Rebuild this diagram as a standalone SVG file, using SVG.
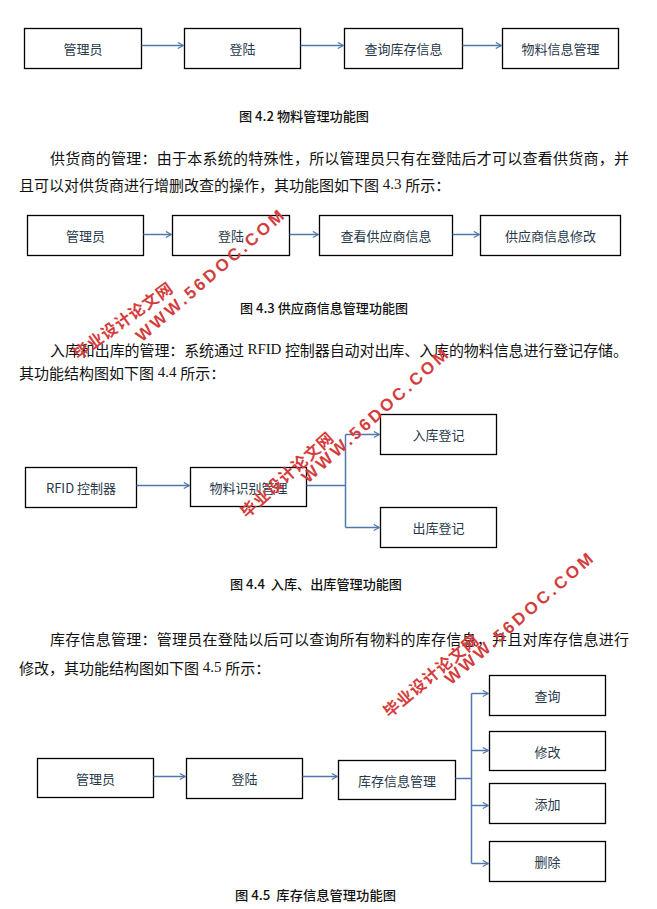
<svg xmlns="http://www.w3.org/2000/svg" width="657" height="909" viewBox="0 0 657 909">
<defs>
<style>
.box{fill:#fff;stroke:#000;stroke-width:1.3}
.lbl{font-family:"Noto Sans CJK SC","Noto Sans",sans-serif;font-size:13px;fill:#27384a;text-anchor:middle;dominant-baseline:central}
.para{font-family:"Noto Sans CJK SC","Noto Sans",sans-serif;font-size:15px;fill:#111;dominant-baseline:central}
.cap{font-family:"Noto Sans CJK SC","Noto Sans",sans-serif;font-size:13px;font-weight:500;fill:#111;dominant-baseline:central;white-space:pre}
.lat{font-family:"Liberation Serif",serif}
.conn{stroke:#5277a8;stroke-width:1.5;fill:none}
.wmc{font-family:"Noto Sans CJK SC",sans-serif;font-size:16px;font-weight:bold;fill:#d43d3d;text-anchor:middle;dominant-baseline:central}
.wme{font-family:"Liberation Sans",sans-serif;font-size:17px;font-weight:bold;fill:#d43d3d;text-anchor:middle;dominant-baseline:central}
</style>
<marker id="arr" viewBox="0 0 8 8" refX="7.2" refY="4" markerWidth="8" markerHeight="8" markerUnits="userSpaceOnUse" orient="auto">
<path d="M1.5,1 L7,4 L1.5,7" fill="none" stroke="#5277a8" stroke-width="1.3"/>
</marker>
</defs>
<rect width="657" height="909" fill="#fff"/>

<!-- Diagram 4.2 -->
<g id="d1_admin"><rect class="box" x="24.5" y="28.5" width="117" height="40"/><text class="lbl" x="83" y="48.5">管理员</text></g>
<g id="d1_login"><rect class="box" x="184.5" y="28.5" width="116" height="40"/><text class="lbl" x="242.5" y="48.5">登陆</text></g>
<g id="d1_query"><rect class="box" x="344.5" y="28.5" width="118" height="40"/><text class="lbl" x="403.5" y="48.5">查询库存信息</text></g>
<g id="d1_material"><rect class="box" x="502.5" y="28.5" width="116" height="40"/><text class="lbl" x="560.5" y="48.5">物料信息管理</text></g>

<text class="cap" x="239" y="115" textLength="130" lengthAdjust="spacingAndGlyphs">图 4.2 物料管理功能图</text>

<text class="para" x="50" y="157" textLength="579" lengthAdjust="spacing">供货商的管理：由于本系统的特殊性，所以管理员只有在登陆后才可以查看供货商，并</text>
<text class="para" x="19" y="184">且可以对供货商进行增删改查的操作，其功能图如下图<tspan class="lat"> 4.3 </tspan>所示：</text>

<!-- Diagram 4.3 -->
<g id="d2_admin"><rect class="box" x="27.5" y="215.5" width="116" height="40"/><text class="lbl" x="85.5" y="235">管理员</text></g>
<g id="d2_login"><rect class="box" x="172.5" y="215.5" width="117" height="40"/><text class="lbl" x="231" y="235">登陆</text></g>
<g id="d2_view"><rect class="box" x="319.5" y="215.5" width="133" height="40"/><text class="lbl" x="386" y="235">查看供应商信息</text></g>
<g id="d2_edit"><rect class="box" x="480.5" y="215.5" width="140" height="40"/><text class="lbl" x="550.5" y="235">供应商信息修改</text></g>

<text class="cap" x="240" y="307" textLength="168" lengthAdjust="spacingAndGlyphs">图 4.3 供应商信息管理功能图</text>

<text class="para" x="50" y="349" textLength="578" lengthAdjust="spacing">入库和出库的管理：系统通过<tspan class="lat"> RFID </tspan>控制器自动对出库、入库的物料信息进行登记存储。</text>
<text class="para" x="19" y="372">其功能结构图如下图<tspan class="lat"> 4.4 </tspan>所示：</text>

<!-- Diagram 4.4 -->
<g id="d3_rfid"><rect class="box" x="25.5" y="467.5" width="111" height="40"/><text class="lbl" x="81" y="487.5">RFID 控制器</text></g>
<g id="d3_ident"><rect class="box" x="190.5" y="467.5" width="116" height="39"/><text class="lbl" x="248.5" y="487">物料识别管理</text></g>
<g id="d3_in"><rect class="box" x="380.5" y="414.5" width="116" height="40"/><text class="lbl" x="438.5" y="434.5">入库登记</text></g>
<g id="d3_out"><rect class="box" x="380.5" y="507.5" width="116" height="40"/><text class="lbl" x="438.5" y="527.5">出库登记</text></g>

<text class="cap" x="230" y="583" textLength="172" lengthAdjust="spacingAndGlyphs">图 4.4  入库、出库管理功能图</text>

<text class="para" x="50" y="638" textLength="579" lengthAdjust="spacing">库存信息管理：管理员在登陆以后可以查询所有物料的库存信息，并且对库存信息进行</text>
<text class="para" x="19" y="667">修改，其功能结构图如下图<tspan class="lat"> 4.5 </tspan>所示：</text>

<!-- Diagram 4.5 -->
<g id="d4_admin"><rect class="box" x="37.5" y="758.5" width="116" height="39"/><text class="lbl" x="95.5" y="778">管理员</text></g>
<g id="d4_login"><rect class="box" x="186.5" y="758.5" width="116" height="40"/><text class="lbl" x="244.5" y="778.5">登陆</text></g>
<g id="d4_stock"><rect class="box" x="338.5" y="760.5" width="117" height="39"/><text class="lbl" x="397" y="780">库存信息管理</text></g>
<g id="d4_query"><rect class="box" x="489.5" y="675.5" width="116" height="40"/><text class="lbl" x="547.5" y="695.5">查询</text></g>
<g id="d4_modify"><rect class="box" x="489.5" y="731.5" width="116" height="39"/><text class="lbl" x="547.5" y="751">修改</text></g>
<g id="d4_add"><rect class="box" x="489.5" y="783.5" width="116" height="40"/><text class="lbl" x="547.5" y="803.5">添加</text></g>
<g id="d4_delete"><rect class="box" x="489.5" y="841.5" width="116" height="40"/><text class="lbl" x="547.5" y="861.5">删除</text></g>

<text class="cap" x="235" y="894" textLength="161" lengthAdjust="spacingAndGlyphs">图 4.5  库存信息管理功能图</text>

<g id="connectors">
<line class="conn" x1="141.5" y1="45.5" x2="183.5" y2="45.5" marker-end="url(#arr)"/>
<line class="conn" x1="300.5" y1="45.5" x2="343.5" y2="45.5" marker-end="url(#arr)"/>
<line class="conn" x1="462.5" y1="45.5" x2="501.5" y2="45.5" marker-end="url(#arr)"/>

<line class="conn" x1="143.5" y1="234.5" x2="171.5" y2="234.5" marker-end="url(#arr)"/>
<line class="conn" x1="289.5" y1="234.5" x2="318.5" y2="234.5" marker-end="url(#arr)"/>
<line class="conn" x1="452.5" y1="234.5" x2="479.5" y2="234.5" marker-end="url(#arr)"/>

<line class="conn" x1="136.5" y1="485.5" x2="189.5" y2="485.5" marker-end="url(#arr)"/>
<path class="conn" d="M306.5,485.5 H345.5"/>
<path class="conn" d="M345.5,434.5 V527.5"/>
<line class="conn" x1="345.5" y1="434.5" x2="379.5" y2="434.5" marker-end="url(#arr)"/>
<line class="conn" x1="345.5" y1="527.5" x2="379.5" y2="527.5" marker-end="url(#arr)"/>

<line class="conn" x1="153.5" y1="776.5" x2="185.5" y2="776.5" marker-end="url(#arr)"/>
<line class="conn" x1="302.5" y1="776.5" x2="337.5" y2="776.5" marker-end="url(#arr)"/>
<path class="conn" d="M455.5,778.5 H471.5"/>
<path class="conn" d="M471.5,693.5 V863.5"/>
<line class="conn" x1="471.5" y1="693.5" x2="488.5" y2="693.5" marker-end="url(#arr)"/>
<line class="conn" x1="471.5" y1="750.5" x2="488.5" y2="750.5" marker-end="url(#arr)"/>
<line class="conn" x1="471.5" y1="805.5" x2="488.5" y2="805.5" marker-end="url(#arr)"/>
<line class="conn" x1="471.5" y1="863.5" x2="488.5" y2="863.5" marker-end="url(#arr)"/>
</g>

<g id="watermarks">
<text class="wmc" transform="translate(122,320) rotate(-36)" textLength="118">毕业设计论文网</text>
<text class="wme" transform="translate(210,276) rotate(-41)" textLength="190">WWW.56DOC.COM</text>
<text class="wmc" transform="translate(286,474) rotate(-42)" textLength="118">毕业设计论文网</text>
<text class="wme" transform="translate(375,416) rotate(-42)" textLength="190">WWW.56DOC.COM</text>
<text class="wmc" transform="translate(430,675) rotate(-40)" textLength="118">毕业设计论文网</text>
<text class="wme" transform="translate(519,619) rotate(-41)" textLength="190">WWW.56DOC.COM</text>
</g>
</svg>
